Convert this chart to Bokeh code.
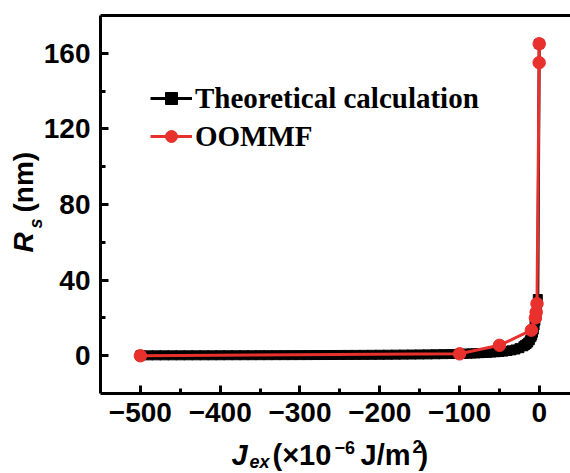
import math
from bokeh.plotting import figure
from bokeh.models import FixedTicker, LinearAxis, Label, Range1d
from bokeh.embed import file_html
from bokeh.resources import INLINE

# ---- data ----
theory_x = [-500, -490, -480, -470, -460, -450, -440, -430, -420, -410,
            -400, -390, -380, -370, -360, -350, -340, -330, -320, -310,
            -300, -290, -280, -270, -260, -250, -240, -230, -220, -210,
            -200, -190, -180, -170, -160, -150, -140, -130, -120, -110,
            -100, -95, -90, -85, -80, -75, -70, -65, -60, -55,
            -50, -45, -40, -35, -30, -25, -20, -18, -16, -14,
            -12, -10, -9, -8, -7, -6, -5, -4, -3, -2,
            -0.2]
theory_y = [0.20, 0.20, 0.21, 0.21, 0.22, 0.22, 0.23, 0.23, 0.24, 0.24,
            0.25, 0.26, 0.26, 0.27, 0.28, 0.29, 0.29, 0.30, 0.31, 0.32,
            0.33, 0.34, 0.36, 0.37, 0.38, 0.40, 0.42, 0.43, 0.45, 0.48,
            0.50, 0.53, 0.56, 0.59, 0.63, 0.67, 0.71, 0.77, 0.83, 0.91,
            1.00, 1.05, 1.10, 1.20, 1.25, 1.35, 1.45, 1.55, 1.70, 1.85,
            2.00, 2.20, 2.50, 2.85, 3.30, 4.00, 5.00, 5.60, 6.20, 7.00,
            8.20, 9.80, 10.8, 12.2, 13.8, 16.0, 18.5, 21.0, 25.0, 30.0,
            165.0]

oommf_x = [-500, -100, -50, -10, -5, -4, -3, -0.3, -0.2]
oommf_y = [0.0, 1.0, 5.5, 13.5, 20.0, 23.0, 27.5, 155.0, 165.0]

x_ticks = [-500, -400, -300, -200, -100, 0]
x_tick_labels = ["\u2212500", "\u2212400", "\u2212300", "\u2212200", "\u2212100", "0"]
x_minor = [-450, -350, -250, -150, -50]
y_ticks = [0, 40, 80, 120, 160]
y_minor = [20, 60, 100, 140]

x_axis_span = (-550, 39)     # extent of the drawn axis box
y_axis_span = (-20, 180)

series_names = ["Theoretical calculation", "OOMMF"]

SANS = "Liberation Sans"
SERIF = "Liberation Serif"
W, H = 570, 473

# frame covers the whole canvas; the axes are pinned at the box edges
p = figure(width=W, height=H, x_range=Range1d(-675.3, 39.0), y_range=Range1d(-62.3, 187.9),
           output_backend="svg", toolbar_location=None,
           min_border_left=0, min_border_right=0, min_border_top=0, min_border_bottom=0)
p.outline_line_color = None
p.grid.visible = False
p.background_fill_color = "white"
p.border_fill_color = "white"

def style_axis(ax):
    ax.axis_line_width = 3
    ax.axis_line_color = "black"
    ax.major_tick_line_width = 3
    ax.minor_tick_line_width = 3
    ax.major_tick_out = 0
    ax.minor_tick_out = 0
    ax.major_tick_in = 8
    ax.minor_tick_in = 5
    ax.major_label_text_font = SANS
    ax.major_label_text_font_style = "bold"
    ax.major_label_text_font_size = "28px"
    ax.major_label_text_color = "black"

xa = p.xaxis[0]
xa.ticker = FixedTicker(ticks=x_ticks, minor_ticks=x_minor)
xa.major_label_overrides = {t: s for t, s in zip(x_ticks, x_tick_labels)}
xa.fixed_location = y_axis_span[0]
xa.bounds = x_axis_span
style_axis(xa)
xa.major_label_standoff = 9

ya = p.yaxis[0]
ya.ticker = FixedTicker(ticks=y_ticks, minor_ticks=y_minor)
ya.fixed_location = x_axis_span[0]
ya.bounds = y_axis_span
style_axis(ya)
ya.major_label_standoff = 10

top = LinearAxis(ticker=FixedTicker(ticks=[]), axis_line_width=3,
                 major_tick_in=0, major_tick_out=0, minor_tick_in=0, minor_tick_out=0,
                 major_label_standoff=0, major_label_text_font_size="0px",
                 fixed_location=y_axis_span[1], bounds=x_axis_span)
p.add_layout(top, "above")

p.line(theory_x, theory_y, line_color="black", line_width=3, legend_label=series_names[0])
p.scatter(theory_x, theory_y, marker="square", size=9, fill_color="black", line_color="black",
          legend_label=series_names[0])
p.line(oommf_x, oommf_y, line_color="#e8302d", line_width=3, legend_label=series_names[1])
p.scatter(oommf_x, oommf_y, marker="circle", size=12.5, fill_color="#e8302d", line_color="#e8302d",
          legend_label=series_names[1])

lg = p.legend[0]
lg.location = (150, H - 155)
lg.border_line_color = None
lg.background_fill_alpha = 0
lg.padding = 0
lg.margin = 0
lg.spacing = 0
lg.label_standoff = 3
lg.glyph_width = 42
lg.glyph_height = 30
lg.label_height = 38
lg.label_text_font = SERIF
lg.label_text_font_style = "bold"
lg.label_text_font_size = "29px"
lg.label_text_color = "black"

def lab(text, px, py, size, style="bold", angle=0.0):
    # px, py: canvas pixels (top-left origin) of the text's baseline start
    shift = 0.35 * size
    if angle == 0.0:
        py -= shift
    else:
        px -= shift
    p.add_layout(Label(x=px, y=H - py, x_units="screen", y_units="screen", text=text,
                       text_font=SANS, text_font_style=style, text_font_size=f"{size}px",
                       text_color="black", text_align="left", text_baseline="alphabetic",
                       angle=angle))

# x-axis title: J_ex (x10^-6 J/m^2)
lab("J", 231, 465, 29, "bold italic")
lab("ex", 249, 468, 18, "bold italic")
lab("(\u00d710", 272, 465, 29)
lab("\u22126", 334, 453, 18)
lab("J/m", 360, 465, 29)
lab("2", 412, 452, 18)
lab(")", 418, 465, 29)

# y-axis title: R_s (nm)
ang = math.pi / 2
lab("R", 33, 252, 28, "bold italic", ang)
lab("s", 42, 228, 18, "bold italic", ang)
lab("(nm)", 33, 212, 28, "bold", ang)

open("out.html", "w").write(file_html(p, INLINE))
